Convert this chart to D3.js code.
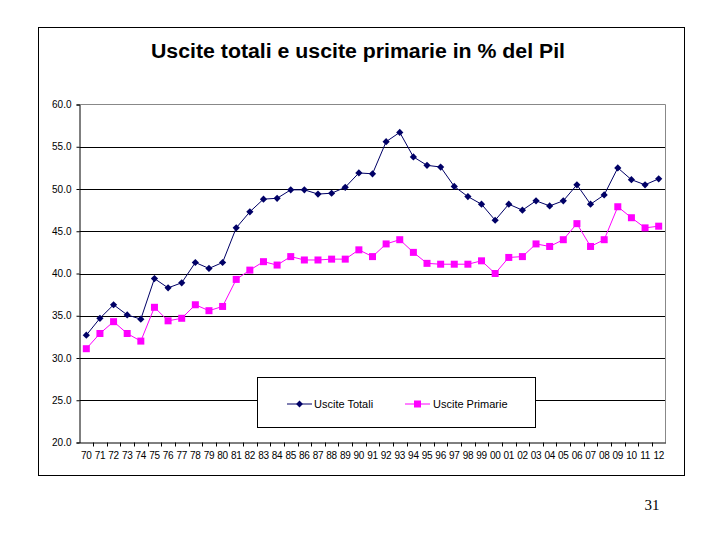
<!DOCTYPE html>
<html><head><meta charset="utf-8">
<script src="https://cdn.jsdelivr.net/npm/d3@7"></script>
<style>body{margin:0;background:#fff;} svg{display:block;}</style>
</head><body>
<svg id="c" width="720" height="540"></svg>
<script>
const years = ["70","71","72","73","74","75","76","77","78","79","80","81","82","83","84","85","86","87","88","89","90","91","92","93","94","95","96","97","98","99","00","01","02","03","04","05","06","07","08","09","10","11","12"];
const usciteTotali = [32.7,34.7,36.3,35.1,34.6,39.4,38.3,38.9,41.3,40.6,41.3,45.4,47.3,48.8,48.9,49.9,49.9,49.4,49.5,50.2,51.9,51.8,55.6,56.7,53.8,52.8,52.6,50.3,49.1,48.2,46.3,48.2,47.5,48.6,48.0,48.6,50.5,48.2,49.3,52.5,51.1,50.5,51.2];
const uscitePrimarie = [31.1,32.9,34.3,32.9,32.0,36.0,34.4,34.7,36.3,35.6,36.1,39.3,40.4,41.4,41.0,42.0,41.6,41.6,41.7,41.7,42.8,42.0,43.5,44.0,42.5,41.2,41.1,41.1,41.1,41.5,40.0,41.9,42.0,43.5,43.2,44.0,45.9,43.2,44.0,47.9,46.6,45.4,45.6];
const yTicks = [20,25,30,35,40,45,50,55,60];
const titleText = "Uscite totali e uscite primarie in % del Pil";
const seriesNames = ["Uscite Totali","Uscite Primarie"];
const pageNumber = "31";

const svg = d3.select("#c");
const L = 79.5, R = 665.5, T = 104.5, B = 442.5;
const font = "'Liberation Sans', Arial, sans-serif";

// outer frame
svg.append("rect").attr("x",38.5).attr("y",27.5).attr("width",646).attr("height",448)
  .attr("fill","none").attr("stroke","#000").attr("stroke-width",1);

svg.append("text").attr("x",151).attr("y",58)
  .attr("font-family",font).attr("font-weight","bold").attr("font-size",20)
  .attr("textLength",414).attr("lengthAdjust","spacingAndGlyphs")
  .text(titleText);

const x = d3.scaleBand().domain(years).range([L,R]);
const y = d3.scaleLinear().domain([20,60]).range([B,T]);

// gridlines
svg.append("g").selectAll("line").data(yTicks.filter(v=>v>20 && v<60)).join("line")
  .attr("x1",L).attr("x2",R).attr("y1",d=>Math.round(y(d))+0.5).attr("y2",d=>Math.round(y(d))+0.5)
  .attr("stroke","#000").attr("stroke-width",1);
// plot frame top/right grey
svg.append("line").attr("x1",L).attr("x2",R).attr("y1",T).attr("y2",T).attr("stroke","#888");
svg.append("line").attr("x1",R).attr("x2",R).attr("y1",T).attr("y2",B).attr("stroke","#888");

// y axis
const yAxis = d3.axisLeft(y).tickValues(yTicks).tickFormat(d3.format(".1f")).tickSize(3).tickPadding(5);
const gy = svg.append("g").attr("transform",`translate(${L},0)`).call(yAxis);
gy.select(".domain").attr("stroke","#000");
gy.selectAll("text").attr("font-family",font).attr("font-size",10).attr("fill","#000");

// x axis
const xAxis = d3.axisBottom(x).tickSize(0).tickPadding(9);
const gx = svg.append("g").attr("transform",`translate(0,${B})`).call(xAxis);
gx.select(".domain").attr("stroke","#000");
gx.selectAll("text").attr("font-family",font).attr("font-size",10).attr("fill","#000").attr("letter-spacing",-0.3);
// tick marks between categories
gx.append("g").selectAll("line").data(years.slice(1)).join("line")
  .attr("x1",d=>Math.round(x(d))+0.5).attr("x2",d=>Math.round(x(d))+0.5).attr("y1",0).attr("y2",4)
  .attr("stroke","#000");

const cx = d=>x(d)+x.bandwidth()/2;
const line = d3.line().x((d,i)=>cx(years[i])).y(d=>y(d));

const navy = "#000066", mag = "#ff00ff";
svg.append("path").datum(usciteTotali).attr("d",line).attr("fill","none").attr("stroke",navy).attr("stroke-width",1);
svg.append("path").datum(uscitePrimarie).attr("d",line).attr("fill","none").attr("stroke",mag).attr("stroke-width",1);

const diamond = (s)=>`M0,${-s}L${s},0L0,${s}L${-s},0Z`;
svg.append("g").selectAll("path").data(usciteTotali).join("path")
  .attr("transform",(d,i)=>`translate(${cx(years[i])},${y(d)})`)
  .attr("d",diamond(3.6)).attr("fill",navy);
svg.append("g").selectAll("rect").data(uscitePrimarie).join("rect")
  .attr("x",(d,i)=>cx(years[i])-3.5).attr("y",d=>y(d)-3.5).attr("width",7).attr("height",7)
  .attr("fill",mag);

// legend
const lg = svg.append("g");
lg.append("rect").attr("x",257.5).attr("y",377.5).attr("width",278).attr("height",50)
  .attr("fill","#fff").attr("stroke","#000");
const ly = 404;
lg.append("line").attr("x1",287).attr("x2",312).attr("y1",ly).attr("y2",ly).attr("stroke",navy);
lg.append("path").attr("transform",`translate(299.5,${ly})`).attr("d",diamond(3.4)).attr("fill",navy);
lg.append("text").attr("x",314).attr("y",ly+4).attr("font-family",font).attr("font-size",11).text(seriesNames[0]);
lg.append("line").attr("x1",405).attr("x2",430).attr("y1",ly).attr("y2",ly).attr("stroke",mag);
lg.append("rect").attr("x",414).attr("y",ly-3.5).attr("width",7).attr("height",7).attr("fill",mag);
lg.append("text").attr("x",433).attr("y",ly+4).attr("font-family",font).attr("font-size",11).text(seriesNames[1]);

svg.append("text").attr("x",652).attr("y",510).attr("text-anchor","middle")
  .attr("font-family","'Liberation Serif', 'Times New Roman', serif").attr("font-size",15).text(pageNumber);
</script>
</body></html>
